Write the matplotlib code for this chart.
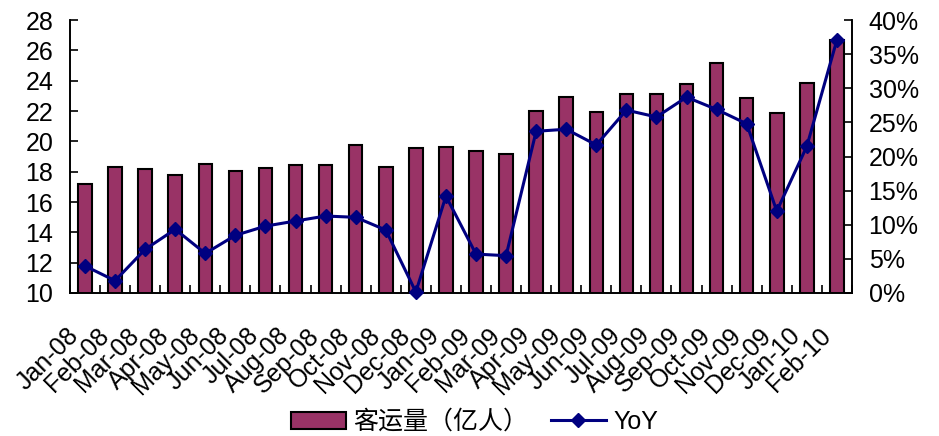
import numpy as np
import matplotlib
matplotlib.use("Agg")
import matplotlib.pyplot as plt
import matplotlib.transforms as mtransforms
from matplotlib.ticker import FixedLocator, PercentFormatter

plt.rcParams['font.family'] = ['Liberation Sans', 'Noto Sans CJK SC', 'DejaVu Sans']

# monthly passenger volume (100 million people) and year-on-year growth
months = ["Jan-08", "Feb-08", "Mar-08", "Apr-08", "May-08", "Jun-08", "Jul-08",
          "Aug-08", "Sep-08", "Oct-08", "Nov-08", "Dec-08", "Jan-09", "Feb-09",
          "Mar-09", "Apr-09", "May-09", "Jun-09", "Jul-09", "Aug-09", "Sep-09",
          "Oct-09", "Nov-09", "Dec-09", "Jan-10", "Feb-10"]
volume = [17.2, 18.33, 18.15, 17.78, 18.5, 18.02, 18.22, 18.42, 18.46, 19.78,
          18.31, 19.54, 19.62, 19.38, 19.16, 22.0, 22.94, 21.91, 23.1, 23.14,
          23.78, 25.14, 22.83, 21.87, 23.86, 26.68]
yoy = [3.96, 1.8, 6.4, 9.33, 5.8, 8.45, 9.8, 10.55, 11.28, 11.09, 9.23, 0.15,
       14.2, 5.7, 5.47, 23.7, 24.0, 21.7, 26.8, 25.8, 28.7, 26.9, 24.8, 12.0,
       21.5, 37.1]

bar_color = "#993366"
line_color = "#000080"

fig = plt.figure(figsize=(9.39, 4.36), dpi=100)
ax = fig.add_axes([0.0745, 0.328, 0.8328, 0.626])
x = np.arange(len(months))

bars = ax.bar(x, volume, width=0.45, color=bar_color, edgecolor="black",
              linewidth=1.5, label="客运量（亿人）", zorder=2)
ax.set_ylim(10, 28)
ax.set_yticks(np.arange(10, 29, 2))
ax.set_xlim(-0.5, len(months) - 0.5)

ax2 = ax.twinx()
line, = ax2.plot(x, yoy, color=line_color, lw=2.2, marker="D", ms=7,
                 label="YoY", clip_on=False, zorder=3)
ax2.set_ylim(0, 40)
ax2.set_yticks(np.arange(0, 41, 5))
ax2.yaxis.set_major_formatter(PercentFormatter(decimals=0))

for a in (ax, ax2):
    a.spines["top"].set_visible(False)
    for s in a.spines.values():
        s.set_linewidth(1.2)

ax.tick_params(axis="y", direction="in", length=6, width=1.2, pad=12, labelsize=18)
ax2.tick_params(axis="y", direction="in", length=6, width=1.2, pad=12, labelsize=18)

# category labels at bar centres, small inward ticks on the boundaries
ax.set_xticks(x)
ax.set_xticklabels(months, rotation=45, ha="right", va="center",
                   rotation_mode="anchor", fontsize=18)
ax.tick_params(axis="x", which="major", length=0, pad=28)
ax.xaxis.set_minor_locator(FixedLocator(np.arange(-0.5, len(months), 1)))
ax.tick_params(axis="x", which="minor", direction="in", length=6, width=1.2)
shift = mtransforms.ScaledTranslation(-0.1, 0, fig.dpi_scale_trans)
for lbl in ax.get_xticklabels():
    lbl.set_transform(lbl.get_transform() + shift)

fig.legend([bars, line], ["客运量（亿人）", "YoY"], loc="center",
           bbox_to_anchor=(0.505, 0.032), ncol=2, frameon=False, fontsize=18,
           handlelength=2.2, handletextpad=0.3, columnspacing=0.9)

fig.savefig("out.png", dpi=100)
